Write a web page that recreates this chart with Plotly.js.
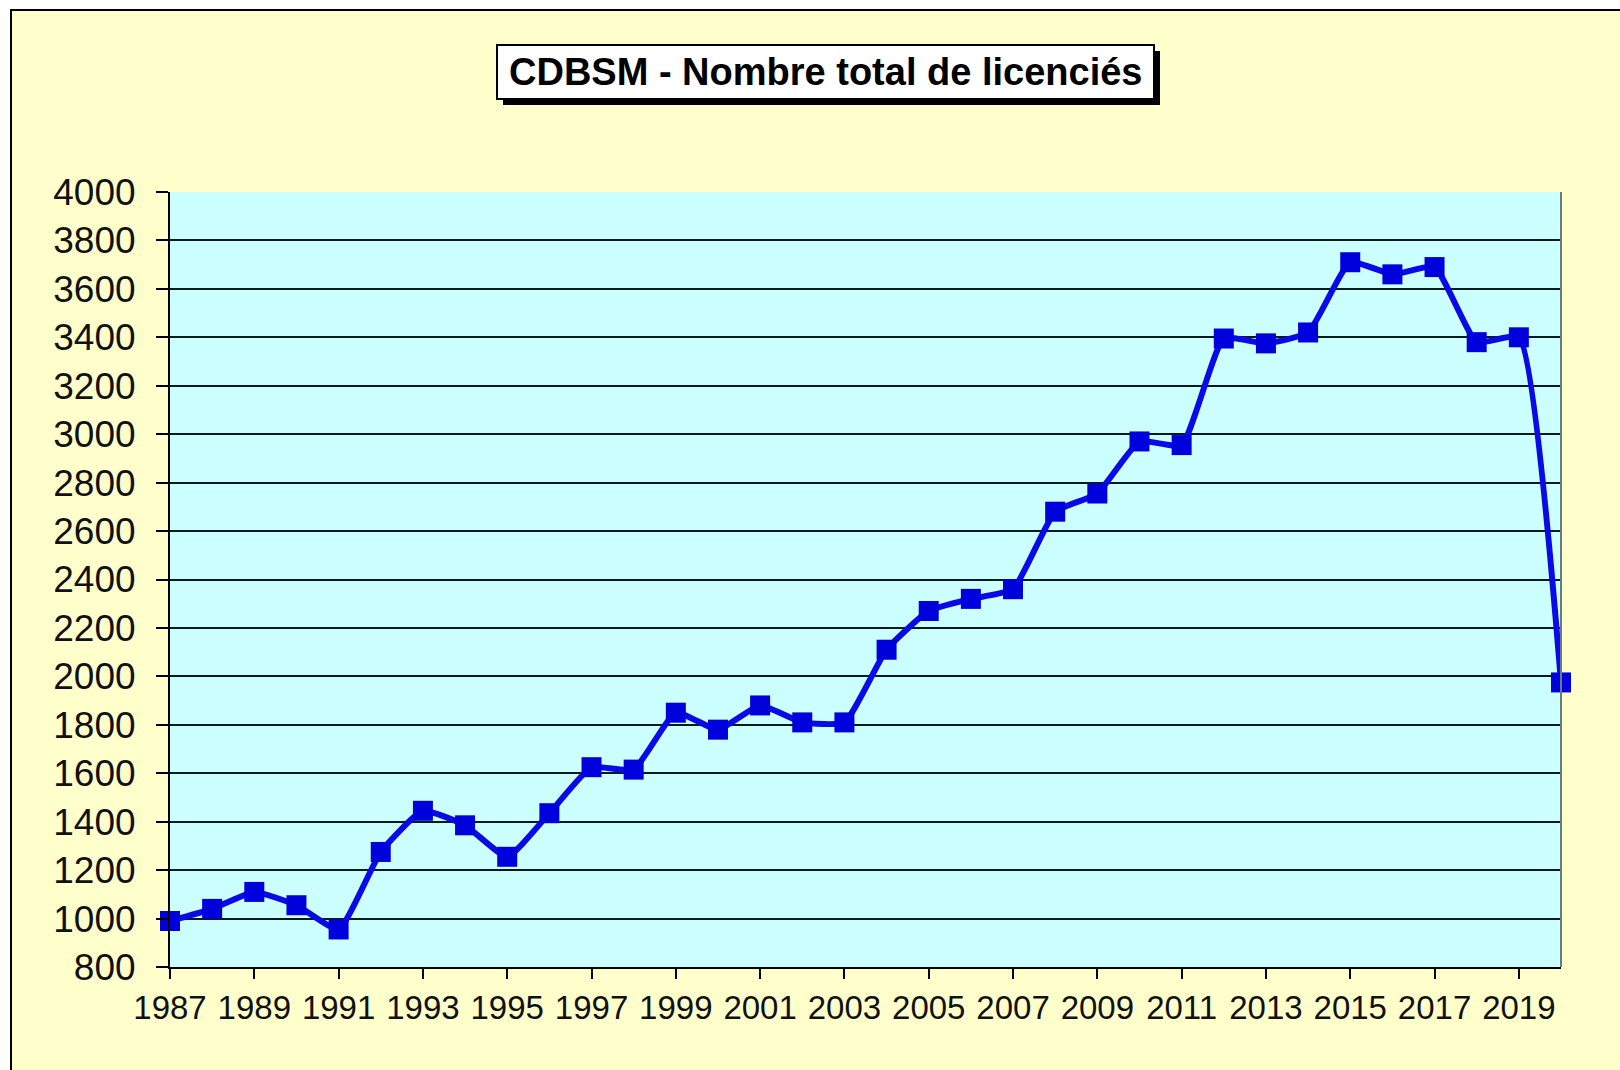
<!DOCTYPE html>
<html>
<head>
<meta charset="utf-8">
<script src="https://cdn.plot.ly/plotly-3.0.1.min.js"></script>
<style>
  html, body { margin: 0; padding: 0; background: #ffffff; width: 1620px; height: 1070px; overflow: hidden; }
  #wrap { position: absolute; left: 10px; top: 9px; width: 1610px; height: 1061px;
          border-left: 2px solid #000; border-top: 2px solid #000; background: #FFFFCC; }
  #chart { position: absolute; left: 0; top: 0; width: 1608px; height: 1059px; }
</style>
</head>
<body>
<div id="wrap"><div id="chart"></div></div>
<script>
// ---- data ----
const years = [1987, 1988, 1989, 1990, 1991, 1992, 1993, 1994, 1995, 1996,
               1997, 1998, 1999, 2000, 2001, 2002, 2003, 2004, 2005, 2006,
               2007, 2008, 2009, 2010, 2011, 2012, 2013, 2014, 2015, 2016,
               2017, 2018, 2019, 2020];
const licencies = [990, 1040, 1110, 1055, 955, 1275, 1445, 1385, 1255, 1435,
                   1625, 1615, 1850, 1780, 1880, 1810, 1810, 2110, 2270, 2320,
                   2360, 2680, 2755, 2970, 2955, 3395, 3375, 3420, 3710, 3660,
                   3690, 3380, 3400, 1975];
const xTickYears = [1987, 1989, 1991, 1993, 1995, 1997, 1999, 2001, 2003, 2005,
                    2007, 2009, 2011, 2013, 2015, 2017, 2019];
const xTickLabels = ["1987", "1989", "1991", "1993", "1995", "1997", "1999", "2001", "2003", "2005",
                     "2007", "2009", "2011", "2013", "2015", "2017", "2019"];
const titleText = "CDBSM - Nombre total de licenciés";

// ---- layout geometry (pixels inside the chart div) ----
const W = 1608, H = 1059;
const M = { l: 158, r: 59, t: 181, b: 103 };
const plotW = W - M.l - M.r, plotH = H - M.t - M.b;
const px = x => (x - M.l) / plotW;
const py = y => (H - M.b - y) / plotH;

const font = 'Arial, "Liberation Sans", sans-serif';
const blue = '#0a0ae6';

// title box (pixel coords in chart div)
const box = { x0: 485, x1: 1142, y0: 34, y1: 88 };
const sh = 6;

const trace = {
  x: years,
  y: licencies,
  type: 'scatter',
  mode: 'lines+markers',
  line: { color: blue, width: 6, shape: 'spline', smoothing: 0.45 },
  marker: { symbol: 'square', size: 20, color: '#0000dd', line: { width: 0 } },
  cliponaxis: false,
  hoverinfo: 'x+y'
};

const layout = {
  width: W, height: H,
  margin: M,
  paper_bgcolor: 'rgba(0,0,0,0)',
  plot_bgcolor: '#CCFFFF',
  showlegend: false,
  font: { family: font, color: '#000' },
  xaxis: {
    type: 'linear',
    range: [1987, 2020],
    tickmode: 'array',
    tickvals: xTickYears,
    ticktext: xTickLabels,
    showgrid: false,
    zeroline: false,
    showline: true, linecolor: '#000', linewidth: 2,
    ticks: 'outside', ticklen: 10, tickwidth: 2, tickcolor: '#000',
    tickfont: { family: font, size: 33, color: '#111' },
    ticklabelstandoff: 0
  },
  yaxis: {
    range: [800, 4000],
    tick0: 800, dtick: 200,
    showgrid: true, gridcolor: '#0a1a1a', gridwidth: 2,
    zeroline: false,
    showline: true, linecolor: '#000', linewidth: 2,
    ticks: 'outside', ticklen: 12, tickwidth: 2, tickcolor: '#000',
    tickfont: { family: font, size: 37, color: '#111' },
    ticklabelstandoff: 13
  },
  shapes: [
    // right border of plot area
    { type: 'line', xref: 'paper', yref: 'paper', x0: 1, x1: 1, y0: 0, y1: 1,
      line: { color: '#6b7b7b', width: 2 } },
    // title shadow
    { type: 'rect', xref: 'paper', yref: 'paper',
      x0: px(box.x0 + sh), x1: px(box.x1 + sh), y0: py(box.y1 + sh), y1: py(box.y0 + sh),
      fillcolor: '#000', line: { width: 0 }, layer: 'above' },
    // title box
    { type: 'rect', xref: 'paper', yref: 'paper',
      x0: px(box.x0), x1: px(box.x1), y0: py(box.y1), y1: py(box.y0),
      fillcolor: '#ffffff', line: { color: '#000', width: 2 }, layer: 'above' }
  ],
  annotations: [
    { xref: 'paper', yref: 'paper',
      x: px((box.x0 + box.x1) / 2), y: py((box.y0 + box.y1) / 2),
      xanchor: 'center', yanchor: 'middle', showarrow: false,
      text: '<b>' + titleText + '</b>',
      font: { family: font, size: 38, color: '#000' } }
  ]
};

Plotly.newPlot('chart', [trace], layout, { displayModeBar: false, staticPlot: true });
</script>
</body>
</html>
